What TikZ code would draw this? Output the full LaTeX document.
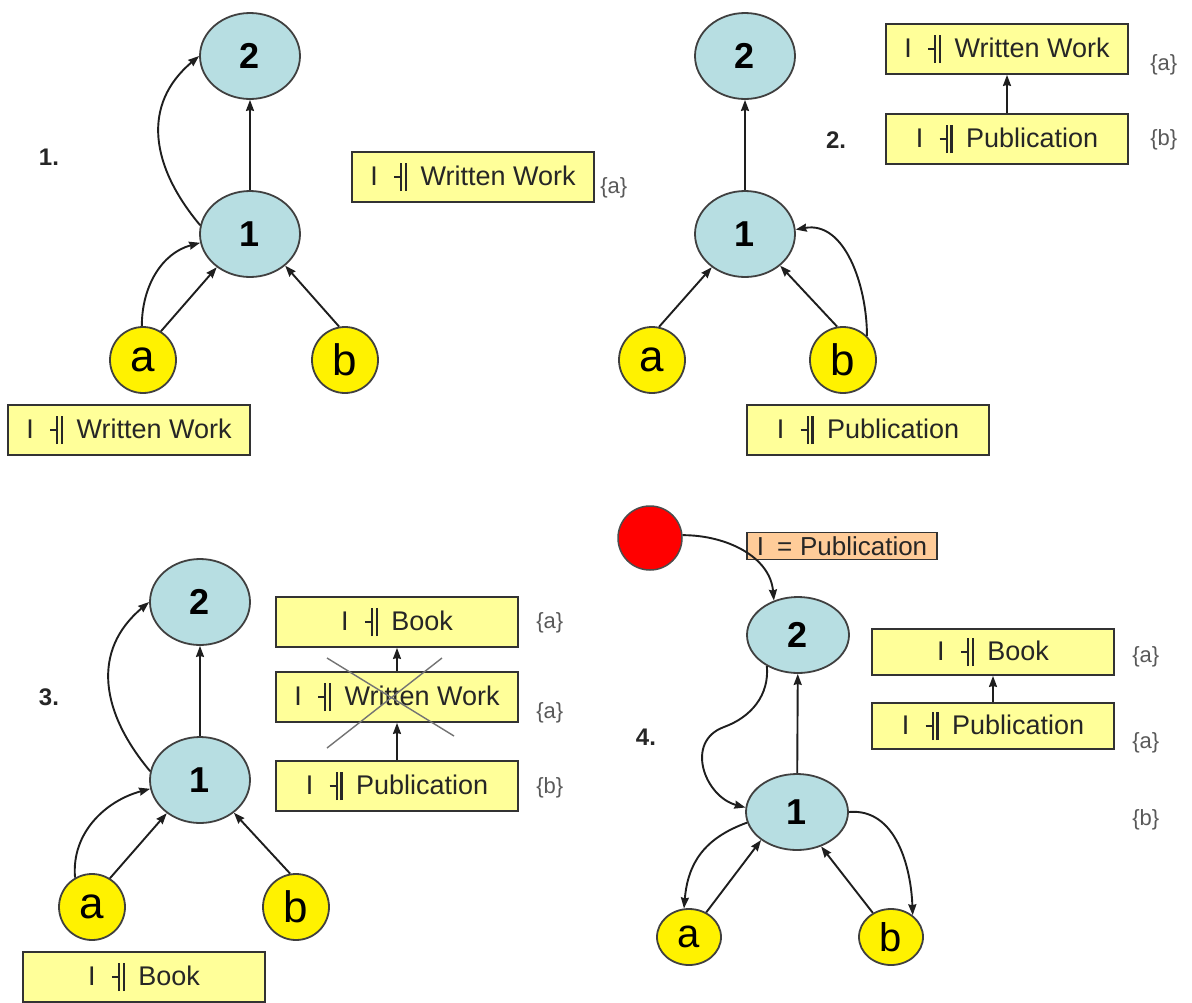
\documentclass[tikz,border=0pt]{standalone}
\usepackage{fontspec}
\setmainfont{Liberation Sans}
\usetikzlibrary{shapes.geometric}
\usetikzlibrary{arrows.meta}

\definecolor{nodeblue}{RGB}{183,222,226}
\definecolor{boxyellow}{RGB}{255,255,153}
\definecolor{peach}{RGB}{255,204,153}
\definecolor{edgegray}{RGB}{30,30,30}

% dash + double bar, as in "I -|| Book"
\newcommand{\dtack}{\raisebox{0.3em}{\rule{0.22em}{0.08em}}\rule[-0.2em]{0.08em}{1.05em}\hspace{0.1em}\rule[-0.2em]{0.08em}{1.05em}}
\newcommand{\cbox}[1]{I\hspace{0.6em}\dtack\hspace{0.5em}#1}

\begin{document}
\begin{tikzpicture}[x=1pt,y=-1pt,->,>={Stealth[length=11pt,width=8pt,inset=1pt]},line width=1.9pt]
\tikzstyle{v}=[ellipse,draw=black!75,fill=nodeblue,line width=1.8pt,minimum width=100pt,minimum height=86pt,inner sep=0pt,font=\fontsize{36}{38}\selectfont\bfseries]
\tikzstyle{vflat}=[minimum width=102pt,minimum height=76pt]
\tikzstyle{leaf}=[circle,draw=black!75,fill=yellow,line width=1.8pt,minimum size=66pt,inner sep=0pt,font=\fontsize{44}{44}\selectfont]
\tikzstyle{leafflat}=[ellipse,minimum width=64pt,minimum height=56pt,font=\fontsize{40}{40}\selectfont]
\tikzstyle{concept}=[rectangle,draw=black!80,fill=boxyellow,line width=1.8pt,minimum width=242pt,minimum height=50pt,inner sep=0pt,text=black!85,font=\fontsize{27}{30}\selectfont]
\tikzstyle{tag}=[anchor=west,text=black!65,font=\fontsize{22}{24}\selectfont]
\tikzstyle{panel}=[text=black!85,font=\fontsize{24}{26}\selectfont\bfseries]
\tikzstyle{cross}=[-,line width=1.4pt,draw=black!55]
\tikzset{every edge/.append style={draw=edgegray}}

\path[use as bounding box,fill=white] (0,0) rectangle (1192,1002);

% 1.
\node[v]	(T1)	at (250,56)	{2};
\node[v]	(B1)	at (250,234)	{1};
\node[leaf]	(a1)	at (143,360)	{a};
\node[leaf]	(b1)	at (345,360)	{b};
\node[panel]	(L1)	at (49,157)	{1.};
\node[concept]	(W1)	at (473,177)	{\cbox{Written Work}};
\node[tag]	(ta1)	at (596,188)	{\{a\}};
\node[concept]	(Wa1)	at (129,430)	{\cbox{Written Work}};
\path(B1)	edge	(T1)
	 (B1.170)	edge[out=130,in=220,looseness=1.15]	(T1.180)
	 (a1.92)	edge[out=90,in=195]	(B1.190)
	 (a1.58)	edge	(B1.225)
	 (b1.100)	edge	(B1.318);

% 2.
\node[v]	(T2)	at (745,56)	{2};
\node[v]	(B2)	at (745,234)	{1};
\node[leaf]	(a2)	at (652,360)	{a};
\node[leaf]	(b2)	at (843,360)	{b};
\node[panel]	(L2)	at (836,140)	{2.};
\node[concept]	(W2)	at (1007,49)	{\cbox{Written Work}};
\node[concept]	(P2)	at (1007,139)	{\cbox{Publication}};
\node[tag]	(ta2)	at (1146,65)	{\{a\}};
\node[tag]	(tb2)	at (1146,140)	{\{b\}};
\node[concept]	(Pb2)	at (868,430)	{\cbox{Publication}};
\path(B2)	edge	(T2)
	 (a2.78)	edge	(B2.225)
	 (b2.100)	edge	(B2.318)
	 (b2.45)	edge[out=90,in=10]	(B2.5)
	 (P2)	edge	(W2);

% 3.
\node[v]	(T3)	at (200,602)	{2};
\node[v]	(B3)	at (200,780)	{1};
\node[leaf]	(a3)	at (92,907)	{a};
\node[leaf]	(b3)	at (296,907)	{b};
\node[panel]	(L3)	at (49,697)	{3.};
\node[concept]	(K3)	at (397,622)	{\cbox{Book}};
\node[concept]	(W3)	at (397,697)	{\cbox{Written Work}};
\node[concept]	(P3)	at (397,786)	{\cbox{Publication}};
\node[tag]	(ta3)	at (532,623)	{\{a\}};
\node[tag]	(tw3)	at (532,713)	{\{a\}};
\node[tag]	(tb3)	at (532,788)	{\{b\}};
\node[concept]	(Kb3)	at (144,977)	{\cbox{Book}};
\path(B3)	edge	(T3)
	 (B3.170)	edge[out=130,in=220,looseness=1.15]	(T3.180)
	 (a3.120)	edge[out=95,in=195]	(B3.190)
	 (a3.58)	edge	(B3.225)
	 (b3.100)	edge	(B3.316)
	 (P3)	edge	(W3)
	 (W3)	edge	(K3);
% struck out
\draw[cross] (327,658) -- (454,736) (442,658) -- (327,748);

% 4.
\node[circle,draw=black!70,fill=red,line width=1.5pt,minimum size=64pt]	(R4)	at (650,538)	{};
\node[rectangle,draw=black!80,fill=peach,line width=1.8pt,minimum width=190pt,minimum height=27pt,inner sep=0pt,text=black!85,font=\fontsize{26}{27}\selectfont]	(E4)	at (842,546)	{I\hspace{0.5em}=\hspace{0.3em}Publication};
\node[v,vflat]	(T4)	at (798,635)	{2};
\node[v,vflat]	(B4)	at (797,812)	{1};
\node[leaf,leafflat]	(a4)	at (689,937)	{a};
\node[leaf,leafflat]	(b4)	at (891,937)	{b};
\node[panel]	(L4)	at (646,737)	{4.};
\node[concept,minimum height=46pt]	(K4)	at (993,652)	{\cbox{Book}};
\node[concept,minimum height=46pt]	(P4)	at (993,726)	{\cbox{Publication}};
\node[tag]	(ta4)	at (1128,657)	{\{a\}};
\node[tag]	(tp4)	at (1128,743)	{\{a\}};
\node[tag]	(tb4)	at (1128,820)	{\{b\}};
\path(R4.5)	edge[out=0,in=95]	(T4.125)
	 (B4)	edge	(T4)
	 (B4.192)	edge[out=200,in=85,looseness=1.1]	(a4.100)
	 (a4.55)	edge	(B4.218)
	 (b4.127)	edge	(B4.305)
	 (B4.0)	edge[out=5,in=92]	(b4.45)
	 (P4)	edge	(K4);
\draw[draw=edgegray] (T4.225) to[out=-85,in=20] (724,727) to[out=200,in=165,looseness=1.3] (B4.175);
\end{tikzpicture}
\end{document}
